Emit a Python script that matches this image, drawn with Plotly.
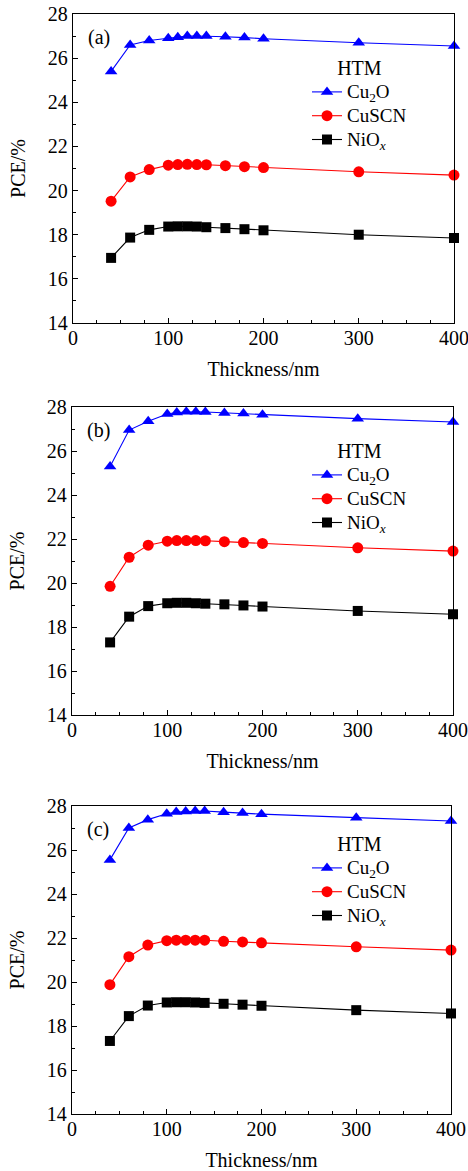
import plotly.graph_objects as go

# ---------------- data ----------------
thickness = [40, 60, 80, 100, 110, 120, 130, 140, 160, 180, 200, 300, 400]

cu2o_a = [25.4, 26.6, 26.8, 26.9, 26.95, 27.0, 27.0, 27.0, 26.97, 26.93, 26.88, 26.7, 26.55]
cuscn_a = [19.52, 20.62, 20.95, 21.15, 21.18, 21.19, 21.18, 21.17, 21.13, 21.08, 21.04, 20.85, 20.7]
niox_a = [16.95, 17.87, 18.22, 18.37, 18.38, 18.38, 18.37, 18.34, 18.3, 18.25, 18.2, 18.0, 17.85]

cu2o_b = [25.3, 26.95, 27.35, 27.68, 27.75, 27.78, 27.78, 27.77, 27.73, 27.7, 27.65, 27.47, 27.32]
cuscn_b = [19.85, 21.17, 21.72, 21.9, 21.93, 21.93, 21.93, 21.92, 21.88, 21.84, 21.8, 21.6, 21.45]
niox_b = [17.3, 18.47, 18.95, 19.08, 19.1, 19.1, 19.08, 19.06, 19.03, 18.98, 18.93, 18.73, 18.58]

cu2o_c = [25.55, 27.0, 27.38, 27.65, 27.73, 27.75, 27.77, 27.77, 27.72, 27.68, 27.63, 27.47, 27.32]
cuscn_c = [19.88, 21.15, 21.68, 21.88, 21.9, 21.9, 21.9, 21.9, 21.85, 21.82, 21.78, 21.6, 21.45]
niox_c = [17.32, 18.45, 18.93, 19.07, 19.08, 19.08, 19.07, 19.05, 19.01, 18.97, 18.92, 18.72, 18.57]

series_names = ["Cu<sub>2</sub>O", "CuSCN", "NiO<sub><i>x</i></sub>"]
panel_labels = ["(a)", "(b)", "(c)"]

panels = [(cu2o_a, cuscn_a, niox_a), (cu2o_b, cuscn_b, niox_b), (cu2o_c, cuscn_c, niox_c)]

# ---------------- styling ----------------
W, H = 468, 1171
FONT = "Liberation Serif"
FS = 20
colors = ["#0000ff", "#ff0000", "#000000"]
symbols = ["triangle-up", "circle", "square"]
msizes = [11, 11, 10]

# pixel boxes: (left, right, top, bottom)
boxes = [(73, 454, 14, 323), (72, 453, 407, 715), (72, 451, 806, 1114)]
legend_tops = [49, 432, 825]

fig = go.Figure()

for p, (vals, box) in enumerate(zip(panels, boxes)):
    sfx = "" if p == 0 else str(p + 1)
    lg = "legend" if p == 0 else "legend" + str(p + 1)
    for s, y in enumerate(vals):
        fig.add_trace(go.Scatter(
            x=thickness, y=y, mode="lines+markers",
            name="<span style='font-size:19px'>" + series_names[s] + "</span>",
            line=dict(color=colors[s], width=1.1),
            marker=dict(symbol=symbols[s], size=msizes[s], color=colors[s]),
            xaxis="x" + sfx, yaxis="y" + sfx, legend=lg, cliponaxis=False,
        ))
    l, r, t, b = box
    xd = [l / W, r / W]
    yd = [1 - b / H, 1 - t / H]
    common = dict(showline=True, linecolor="black", linewidth=1.3, mirror=True,
                  ticks="inside", ticklen=5, tickcolor="black", tickwidth=1,
                  showgrid=False, zeroline=False, automargin=False,
                  ticklabeloverflow="allow",
                  tickfont=dict(family=FONT, size=FS, color="black"))
    fig.layout["xaxis" + sfx] = dict(
        common, domain=xd, range=[0, 400], anchor="y" + sfx,
        tickmode="linear", tick0=0, dtick=100, ticklabelstandoff=-3,
        minor=dict(tickmode="linear", tick0=0, dtick=25, ticks="inside", ticklen=3,
                   tickcolor="black", showgrid=False),
        title=dict(text="Thickness/nm", font=dict(family=FONT, size=FS, color="black"), standoff=13),
    )
    fig.layout["yaxis" + sfx] = dict(
        common, domain=yd, range=[14, 28], anchor="x" + sfx,
        tickmode="linear", tick0=14, dtick=2,
        minor=dict(tickmode="linear", tick0=14, dtick=1, ticks="inside", ticklen=3,
                   tickcolor="black", showgrid=False),
        title=dict(text="PCE/%", font=dict(family=FONT, size=FS, color="black"), standoff=16),
    )
    fig.layout[lg] = dict(
        x=307 / W, y=1 - legend_tops[p] / H, xanchor="left", yanchor="top",
        xref="paper", yref="paper", bgcolor="rgba(0,0,0,0)",
        font=dict(family=FONT, size=16, color="black"),
        title=dict(text="HTM", side="top center", font=dict(family=FONT, size=20, color="black")),
        tracegroupgap=0, itemwidth=30,
    )
    fig.add_annotation(
        text=panel_labels[p], x=(l + 13) / W, y=1 - (t + 23) / H, xref="paper", yref="paper",
        xanchor="left", yanchor="middle", showarrow=False,
        font=dict(family=FONT, size=FS, color="black"),
    )

fig.update_layout(
    width=W, height=H, margin=dict(l=0, r=0, t=0, b=0),
    paper_bgcolor="white", plot_bgcolor="white", showlegend=True,
)

fig.write_html("out.html", config={"displayModeBar": False},
               post_script="document.body.style.margin='0';document.body.style.overflow='hidden';")
